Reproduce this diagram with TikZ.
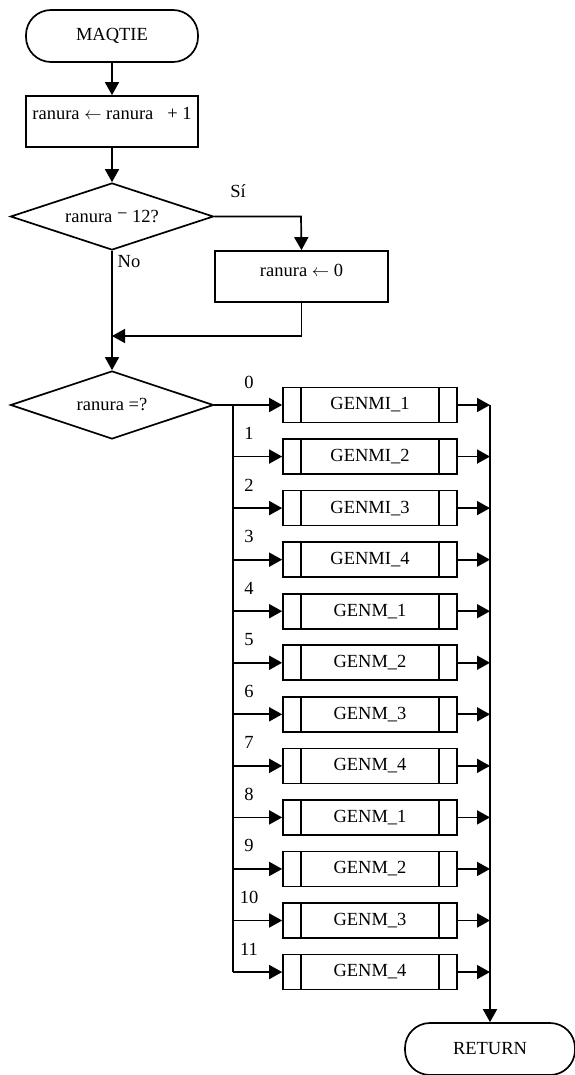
\documentclass[tikz,border=0pt]{standalone}
\usepackage{fontspec}
\setmainfont{Liberation Serif}
\usetikzlibrary{arrows.meta,shapes.geometric}

\begin{document}
\begin{tikzpicture}[x=1pt,y=-1pt,line width=1.7pt,
  font=\fontsize{18.5}{22}\selectfont,
  term/.style={draw,rounded corners=25pt,minimum width=172pt,minimum height=52pt,inner sep=0pt},
  proc/.style={draw,minimum width=172pt,minimum height=51pt,inner sep=0pt},
  decision/.style={draw,diamond,aspect=3,minimum width=203pt,minimum height=67pt,inner sep=0pt},
  subproc/.style={draw,minimum width=174pt,minimum height=35pt,inner sep=0pt,
    path picture={\draw[line width=1.7pt]
      ([xshift=18pt]path picture bounding box.north west) -- ([xshift=18pt]path picture bounding box.south west)
      ([xshift=-18pt]path picture bounding box.north east) -- ([xshift=-18pt]path picture bounding box.south east);}},
  flow/.style={-{Triangle[length=13pt,width=14pt]}},
  lbl/.style={inner sep=0pt}
]
\useasboundingbox (0,0) rectangle (574,1075);

% main column
\node[term] (start) at (112,36) {MAQTIE};
\node[proc,text height=12pt,text depth=15pt] (inc) at (112,121.5) {ranura \(\leftarrow\) ranura \ \ + 1};
\node[decision] (d1) at (112,216.5) {ranura \raisebox{3pt}{−} 12?};
\node[proc,minimum width=173pt,text height=12pt,text depth=13pt] (zero) at (301.5,276.5) {ranura \(\leftarrow\) 0};
\node[decision,minimum height=68pt] (d2) at (112,405) {ranura =?};
\node[term,minimum width=170pt] (ret) at (490,1049) {RETURN};

\node[lbl] (si) at (238,191) {Sí};
\node[lbl] (no) at (129,262) {No};

\coordinate (yesturn) at (301,216.5);
\coordinate (merge) at (112,336);

\draw[flow] (start) -- (inc);
\draw[flow] (inc) -- (d1);
\draw[flow] (d1.east) -- (yesturn) -- (zero.north);
\draw[flow] (zero.south) |- (merge);
\draw[flow] (d1.south) -- (d2.north);

% multi-way branch
\foreach \i/\t in {0/GENMI\_1,1/GENMI\_2,2/GENMI\_3,3/GENMI\_4,4/GENM\_1,5/GENM\_2,
                   6/GENM\_3,7/GENM\_4,8/GENM\_1,9/GENM\_2,10/GENM\_3,11/GENM\_4}{
  \pgfmathsetmacro\yy{405+51.55*\i}
  \node[subproc] (s\i) at (370,\yy) {\t};
  \coordinate (L\i) at (233,\yy);
  \coordinate (R\i) at (490,\yy);
  \node[lbl] (n\i) at (249,\yy-23) {\i};
  \draw[flow] (s\i.east) -- (R\i);
}
\draw[flow] (d2.east) -- (s0.west);
\draw (L0) -- (L11);
\foreach \i in {1,...,11}{
  \draw[flow] (L\i) -- (s\i.west);
}
\draw[flow] (R0) -- (ret.north);
\end{tikzpicture}
\end{document}
